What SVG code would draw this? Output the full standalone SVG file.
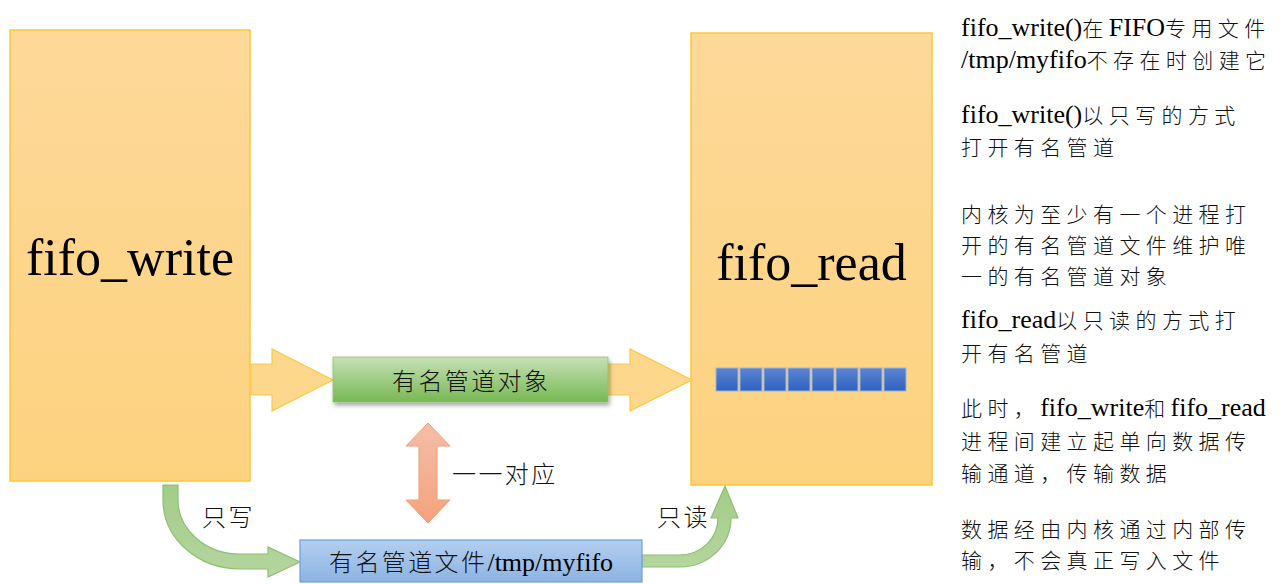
<svg xmlns="http://www.w3.org/2000/svg" width="1280" height="584" viewBox="0 0 1280 584">
<defs>
<linearGradient id="gYel" x1="0" y1="0" x2="0" y2="1"><stop offset="0" stop-color="#fdd999"/><stop offset="1" stop-color="#fdd27f"/></linearGradient>
<linearGradient id="gGreen" x1="0" y1="0" x2="0" y2="1"><stop offset="0" stop-color="#c6e1b5"/><stop offset="1" stop-color="#78b853"/></linearGradient>
<linearGradient id="gBlue" x1="0" y1="0" x2="0" y2="1"><stop offset="0" stop-color="#b3cff0"/><stop offset="1" stop-color="#8db3e2"/></linearGradient>
<linearGradient id="gSq" x1="0" y1="0" x2="0" y2="1"><stop offset="0" stop-color="#5c85d2"/><stop offset="1" stop-color="#2f62bf"/></linearGradient>
<linearGradient id="gOr" x1="0" y1="0" x2="0" y2="1"><stop offset="0" stop-color="#f5bea8"/><stop offset="1" stop-color="#f4a27c"/></linearGradient>
<linearGradient id="gArrG" x1="0" y1="0" x2="0" y2="1"><stop offset="0" stop-color="#a3cc88"/><stop offset="1" stop-color="#b4d69f"/></linearGradient>
<filter id="shadow" x="-10%" y="-20%" width="120%" height="150%"><feDropShadow dx="1.5" dy="3" stdDeviation="2" flood-color="#000" flood-opacity="0.35"/></filter>
</defs>
<style>
.box{fill:url(#gYel);stroke:#fcc73a;stroke-width:1.5}
.big{font-family:"Liberation Serif","Noto Sans CJK SC",serif;font-size:52px;fill:#000}
.lbl{font-family:"Liberation Serif","Noto Sans CJK SC",serif;font-size:26px;fill:#000}
.cj{font-family:"Noto Sans CJK SC",sans-serif;font-size:24px;letter-spacing:2.4px;font-weight:300;fill:#111}
.cn{font-family:"Noto Sans CJK SC",sans-serif;font-size:21px;letter-spacing:5.4px;font-weight:300;fill:#111}
.yarr{fill:#fdd78c;stroke:#fcc940;stroke-width:1.2}
.garr{fill:url(#gArrG);stroke:#8dbf72;stroke-width:1.2}
.sq{fill:url(#gSq);stroke:#9bb2dc;stroke-width:1}
</style>
<rect width="1280" height="584" fill="#ffffff"/>
<g id="node-fifo-write">
<rect class="box" x="10" y="30" width="240" height="451"/>
<text class="big" x="130" y="275" text-anchor="middle">fifo_write</text>
</g>
<g id="node-fifo-read">
<rect class="box" x="691" y="33" width="241" height="452"/>
<text class="big" x="811.5" y="280" text-anchor="middle">fifo_read</text>
<g id="buffer">
<rect class="sq" x="716" y="368" width="22" height="23"/>
<rect class="sq" x="740" y="368" width="22" height="23"/>
<rect class="sq" x="764" y="368" width="22" height="23"/>
<rect class="sq" x="788" y="368" width="22" height="23"/>
<rect class="sq" x="812" y="368" width="22" height="23"/>
<rect class="sq" x="836" y="368" width="22" height="23"/>
<rect class="sq" x="860" y="368" width="22" height="23"/>
<rect class="sq" x="884" y="368" width="22" height="23"/>
</g>
</g>
<g id="connectors">
<path class="yarr" d="M251,364 H272 V349 L333,380 L272,411 V395 H251 Z"/>
<path class="yarr" d="M608,364 H630 V349 L692,380 L630,411 V395 H608 Z"/>
<path d="M428,423 L450,446 H437 V500 H450 L428,523 L406,500 H419 V446 H406 Z" fill="url(#gOr)" stroke="#f29b76" stroke-width="1"/>
<path class="garr" d="M163,485 V500 A77,69 0 0 0 240,569 H268 V577 L300,562 L268,547 V554 H240 A62,54 0 0 1 178,500 V485 Z"/>
<path class="garr" d="M642,567 H680 A51,49 0 0 0 731,518 H738 L725,486 L711,518 H718 A38,37 0 0 1 680,555 H642 Z"/>
<text x="202" y="526"><tspan class="cj" letter-spacing="1">只写</tspan></text>
<text x="657" y="526"><tspan class="cj" letter-spacing="1">只读</tspan></text>
<text x="452" y="483"><tspan class="cj">一一对应</tspan></text>
</g>
<g id="node-pipe-object">
<rect x="333" y="357" width="275" height="45" fill="url(#gGreen)" stroke="#8fc06f" stroke-width="0.8" filter="url(#shadow)"/>
<text x="392" y="390"><tspan class="cj">有名管道对象</tspan></text>
</g>
<g id="node-pipe-file">
<rect x="300" y="540" width="342" height="42" fill="url(#gBlue)" stroke="#6d9ede" stroke-width="1.2"/>
<text class="lbl" x="329" y="571"><tspan class="cj">有名管道文件</tspan>/tmp/myfifo</text>
</g>
<g id="notes">
<text class="lbl" x="961" y="36">fifo_write()<tspan class="cn">在</tspan>FIFO<tspan class="cn">专用文件</tspan></text>
<text class="lbl" x="961" y="68">/tmp/myfifo<tspan class="cn">不存在时创建它</tspan></text>
<text class="lbl" x="961" y="123">fifo_write()<tspan class="cn">以只写的方式</tspan></text>
<text class="lbl" x="961" y="155"><tspan class="cn">打开有名管道</tspan></text>
<text class="lbl" x="961" y="222"><tspan class="cn">内核为至少有一个进程打</tspan></text>
<text class="lbl" x="961" y="253"><tspan class="cn">开的有名管道文件维护唯</tspan></text>
<text class="lbl" x="961" y="284"><tspan class="cn">一的有名管道对象</tspan></text>
<text class="lbl" x="961" y="328">fifo_read<tspan class="cn">以只读的方式打</tspan></text>
<text class="lbl" x="961" y="361"><tspan class="cn">开有名管道</tspan></text>
<text class="lbl" x="961" y="416"><tspan class="cn">此时，</tspan>fifo_write<tspan class="cn">和</tspan>fifo_read</text>
<text class="lbl" x="961" y="449"><tspan class="cn">进程间建立起单向数据传</tspan></text>
<text class="lbl" x="961" y="481"><tspan class="cn">输通道，传输数据</tspan></text>
<text class="lbl" x="961" y="537"><tspan class="cn">数据经由内核通过内部传</tspan></text>
<text class="lbl" x="961" y="568"><tspan class="cn">输，不会真正写入文件</tspan></text>
</g>
</svg>
